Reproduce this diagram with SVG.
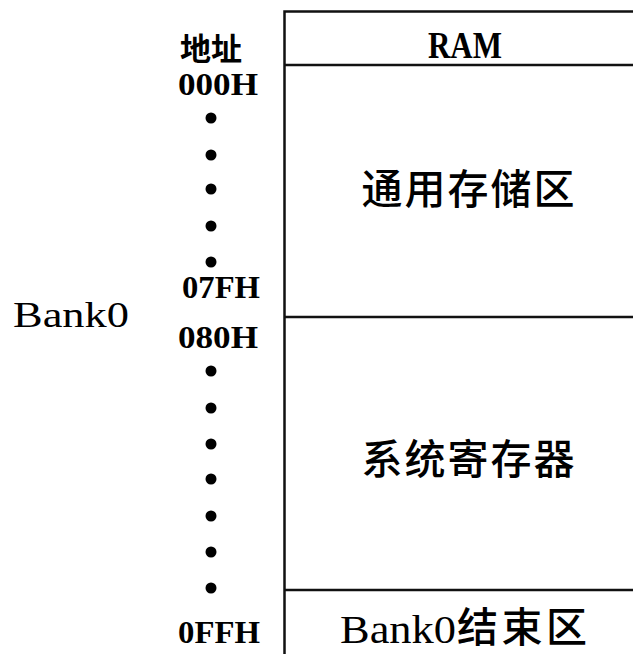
<svg xmlns="http://www.w3.org/2000/svg" width="633" height="654" viewBox="0 0 633 654">
<style>
.ln{stroke:#111;stroke-width:2.5;fill:none}
.addr{font-family:"Liberation Serif",serif;font-weight:bold;font-size:31px;fill:#000}
.cjk{font-family:"Noto Sans CJK SC",sans-serif;fill:#000}
.dot{fill:#000}
.lbl{font-family:"Liberation Serif",serif;fill:#000}
</style>
<rect width="633" height="654" fill="#fff"/>
<g id="connectors">
<path class="ln" d="M284.5,654 V11.5 H633"/>
<path class="ln" d="M284.5,65 H633"/>
<path class="ln" d="M284.5,317 H633"/>
<path class="ln" d="M284.5,590 H633"/>
</g>
<g id="ram-header">
<text class="lbl" x="465" y="58" font-size="38" font-weight="bold" text-anchor="middle" textLength="74" lengthAdjust="spacingAndGlyphs">RAM</text>
</g>
<g id="general-storage">
<text class="cjk" x="468" y="204" font-size="41" font-weight="500" text-anchor="middle" textLength="213" lengthAdjust="spacing">通用存储区</text>
</g>
<g id="system-registers">
<text class="cjk" x="468" y="474" font-size="41" font-weight="500" text-anchor="middle" textLength="213" lengthAdjust="spacing">系统寄存器</text>
</g>
<g id="bank0-end">
<text class="lbl" x="340" y="643" font-size="40" textLength="116" lengthAdjust="spacingAndGlyphs">Bank0</text>
<text class="cjk" x="457" y="642" font-size="41" font-weight="500" textLength="130" lengthAdjust="spacing">结束区</text>
</g>
<g id="bank0-label">
<text class="lbl" x="13" y="327" font-size="35" textLength="116" lengthAdjust="spacingAndGlyphs">Bank0</text>
</g>
<g id="address-column">
<text class="cjk" x="211" y="60" font-size="31" font-weight="bold" text-anchor="middle">地址</text>
<text class="addr" x="178" y="95" textLength="80" lengthAdjust="spacingAndGlyphs">000H</text>
<text class="addr" x="182" y="298" textLength="78" lengthAdjust="spacingAndGlyphs">07FH</text>
<text class="addr" x="178" y="348" textLength="80" lengthAdjust="spacingAndGlyphs">080H</text>
<text class="addr" x="178" y="643" textLength="82" lengthAdjust="spacingAndGlyphs">0FFH</text>
<circle class="dot" cx="211" cy="118" r="5.5"/>
<circle class="dot" cx="211" cy="155" r="5.5"/>
<circle class="dot" cx="211" cy="189" r="5.5"/>
<circle class="dot" cx="211" cy="226" r="5.5"/>
<circle class="dot" cx="211" cy="262" r="5.5"/>
<circle class="dot" cx="211" cy="371" r="5.5"/>
<circle class="dot" cx="211" cy="408" r="5.5"/>
<circle class="dot" cx="211" cy="444" r="5.5"/>
<circle class="dot" cx="211" cy="479" r="5.5"/>
<circle class="dot" cx="211" cy="516" r="5.5"/>
<circle class="dot" cx="211" cy="552" r="5.5"/>
<circle class="dot" cx="211" cy="588" r="5.5"/>
</g>
</svg>
